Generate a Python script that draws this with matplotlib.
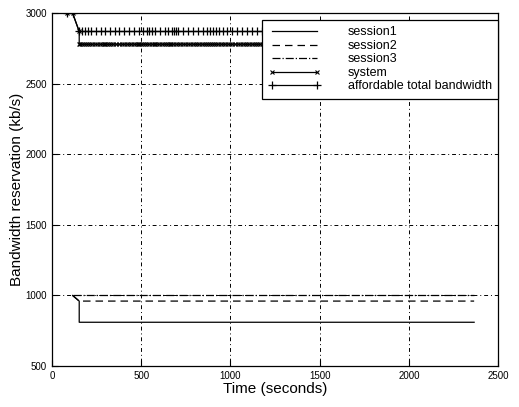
import matplotlib
matplotlib.use('Agg')

import matplotlib.pyplot as plt

# session curves (time in s, bandwidth in kb/s)
s1_t = [116, 153, 153, 2365]
s1_bw = [1000, 960, 810, 810]
s2_t = [116, 153, 2365]
s2_bw = [1000, 960, 960]
s3_t = [116, 2365]
s3_bw = [1000, 1000]

# system reservation, markers at each event
sys_t = [82, 116, 153, 153, 160, 170, 180, 192, 200, 212, 225, 240, 255, 268, 280, 292,
         300, 310, 318, 330, 345, 360, 375, 392, 405, 418, 430, 445, 460, 472, 480, 488,
         500, 512, 520, 530, 545, 560, 572, 580, 590, 602, 615, 628, 640, 652, 660, 668,
         680, 695, 706, 720, 735, 748, 760, 775, 790, 800, 812, 825, 840, 852, 862, 872,
         884, 895, 906, 918, 930, 945, 958, 972, 985, 998, 1010, 1025, 1040, 1055, 1068,
         1080, 1092, 1105, 1118, 1130, 1142, 1155, 1168, 1180, 1400, 1700, 2000, 2365]
sys_bw = [3000, 3000, 2870] + [2780] * (len(sys_t) - 3)

# affordable total bandwidth
aff_t = [82, 116, 153, 168, 185, 202, 219, 247, 275, 297, 325, 353, 376, 404, 432, 460,
         488, 510, 532, 544, 561, 577, 605, 633, 650, 673, 684, 695, 706, 734, 762, 790,
         818, 846, 869, 886, 902, 919, 936, 958, 981, 1009, 1037, 1065, 1093, 1121, 1149,
         1177, 1400, 1700, 2000, 2365]
aff_bw = [3000, 3000] + [2870] * (len(aff_t) - 2)

plt.rcParams['font.family'] = ['Liberation Sans', 'DejaVu Sans']

fig = plt.figure(figsize=(5.19, 4.07), dpi=100)
ax = fig.add_axes([0.1, 0.1007, 0.86, 0.867])

ax.plot(s1_t, s1_bw, 'k-', linewidth=0.9, label='session1')
ax.plot(s2_t, s2_bw, 'k--', linewidth=0.9, dashes=(6, 4), label='session2')
ax.plot(s3_t, s3_bw, 'k-.', linewidth=0.9, label='session3')
ax.plot(sys_t, sys_bw, 'k-', marker='x', markersize=3, markeredgewidth=0.8,
        linewidth=0.9, label='system')
ax.plot(aff_t, aff_bw, 'k-', marker='+', markersize=6, markeredgewidth=0.9,
        linewidth=0.9, label='affordable total bandwidth')

ax.set_xlim(0, 2500)
ax.set_ylim(500, 3000)
ax.set_xticks([0, 500, 1000, 1500, 2000, 2500])
ax.set_yticks([500, 1000, 1500, 2000, 2500, 3000])
ax.tick_params(direction='in', labelsize=7, length=4, width=0.8)
ax.grid(True, color='k', linestyle=(0, (1, 3, 4, 3)), linewidth=0.7)
for sp in ax.spines.values():
    sp.set_linewidth(0.9)

ax.set_xlabel('Time (seconds)', fontsize=11, labelpad=1)
ax.set_ylabel('Bandwidth reservation (kb/s)', fontsize=11, labelpad=1)

leg = ax.legend(loc='upper right', bbox_to_anchor=(1.0, 0.98), borderaxespad=0,
                fontsize=9, fancybox=False, framealpha=1, edgecolor='k',
                numpoints=2, handlelength=4.2, labelspacing=0.12, handletextpad=2.2,
                borderpad=0.5)
leg.get_frame().set_linewidth(0.9)

plt.savefig('out.png')
